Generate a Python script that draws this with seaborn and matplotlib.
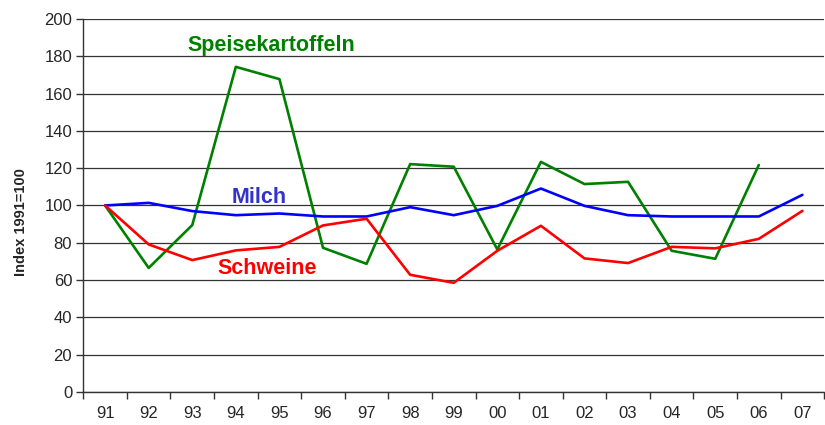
import numpy as np
import pandas as pd
import seaborn as sns
import matplotlib.pyplot as plt
from matplotlib.ticker import FixedLocator

# data (Index 1991=100)
years = ["91", "92", "93", "94", "95", "96", "97", "98", "99",
         "00", "01", "02", "03", "04", "05", "06", "07"]
kartoffeln = [100, 66.5, 89.5, 174.4, 167.8, 77.3, 68.7, 122.2, 120.8,
              76.4, 123.4, 111.5, 112.7, 75.7, 71.4, 121.7, np.nan]
milch = [100, 101.4, 97.0, 94.8, 95.7, 94.1, 94.1, 99.1, 94.8,
         99.8, 109.1, 99.8, 94.8, 94.1, 94.1, 94.1, 105.7]
schweine = [100, 79.1, 70.7, 75.9, 77.8, 89.3, 92.9, 62.8, 58.5,
            75.7, 89.1, 71.6, 69.1, 77.8, 77.0, 82.1, 97.1]

series_names = ["Speisekartoffeln", "Milch", "Schweine"]
colors = {"Speisekartoffeln": "#008000", "Milch": "#0000ff", "Schweine": "#ff0000"}

df = pd.DataFrame({"Jahr": years, "Speisekartoffeln": kartoffeln,
                   "Milch": milch, "Schweine": schweine})
long = df.melt(id_vars="Jahr", var_name="Reihe", value_name="Index")

sns.set_style("white")
plt.rcParams["font.family"] = ["Liberation Sans", "DejaVu Sans"]

fig = plt.figure(figsize=(8.25, 4.25), dpi=100)
ax = fig.add_axes([0.101, 0.078, 0.898, 0.877])

for name in series_names:
    sub = long[long["Reihe"] == name]
    sns.lineplot(data=sub, x="Jahr", y="Index", color=colors[name],
                 linewidth=1.9, ax=ax, legend=False, sort=False)

ax.set_ylim(0, 200)
ax.set_xlim(-0.5, len(years) - 0.5)
ax.set_yticks(range(0, 201, 20))
ax.yaxis.grid(True, color="#333333", linewidth=0.9)
ax.set_axisbelow(True)

# ticks between categories on the x axis
ax.xaxis.set_minor_locator(FixedLocator(np.arange(-0.5, len(years), 1.0)))
ax.tick_params(axis="x", which="major", length=0, pad=10, labelsize=12)
ax.tick_params(axis="x", which="minor", length=5, width=1, color="#333333",
               direction="out", bottom=True)
ax.tick_params(axis="y", length=5, width=1, color="#333333",
               direction="out", left=True, labelsize=12, pad=3)

for side in ["top", "right"]:
    ax.spines[side].set_visible(False)
for side in ["left", "bottom"]:
    ax.spines[side].set_color("#333333")
    ax.spines[side].set_linewidth(1)

ax.set_xlabel("")
ax.set_ylabel("Index 1991=100", fontsize=10.5, fontweight="bold")
ax.yaxis.set_label_coords(-0.075, 0.455)

ax.text(3.81, 186, "Speisekartoffeln", color="#008000", fontsize=15.5,
        fontweight="bold", ha="center", va="center")
ax.text(3.54, 104.5, "Milch", color="#3333cc", fontsize=15.5,
        fontweight="bold", ha="center", va="center")
ax.text(3.72, 66.4, "Schweine", color="#ff0000", fontsize=15.5,
        fontweight="bold", ha="center", va="center")

plt.savefig("out.png", dpi=100)
plt.close()
